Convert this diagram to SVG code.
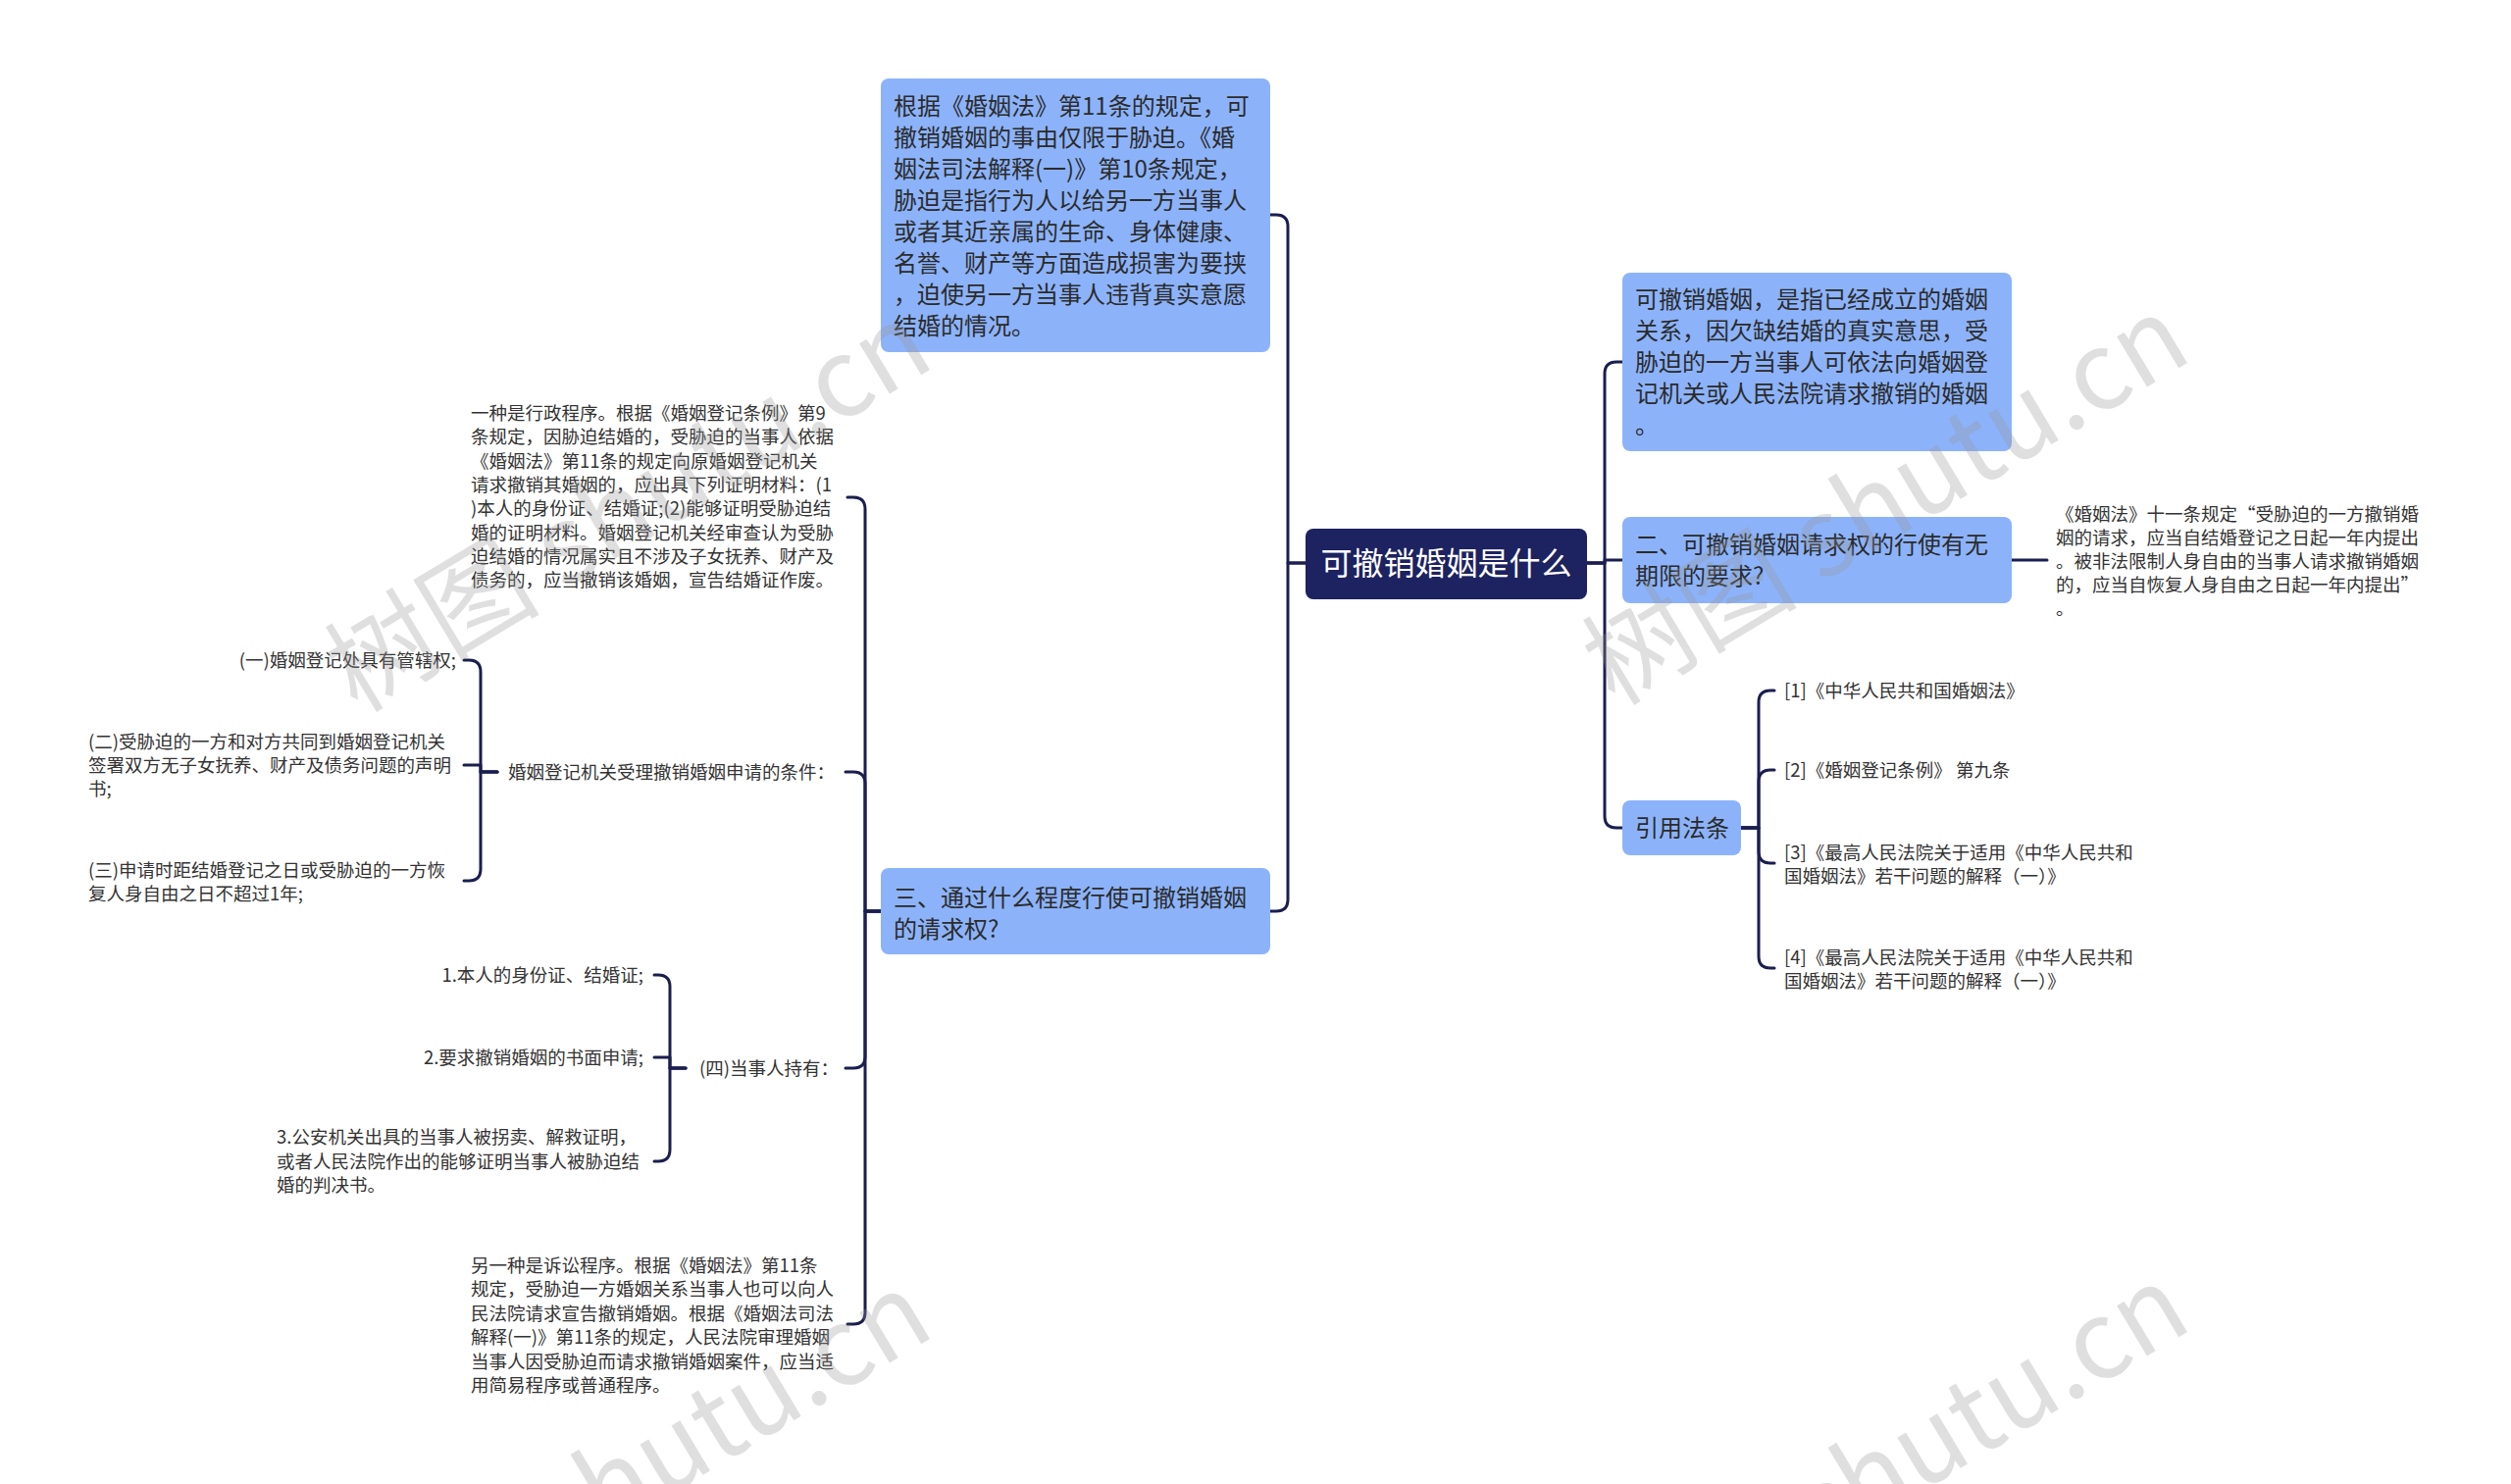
<svg xmlns="http://www.w3.org/2000/svg" width="2560" height="1513" viewBox="0 0 2560 1513">
<style>
text{font-family:"Noto Sans CJK SC","Noto Sans",sans-serif;}
.box{fill:#8cb3fa;}
.root{fill:#1d2260;}
.t24{font-size:24px;fill:#2b2b2b;}
.t32{font-size:32px;fill:#ffffff;}
.t18{font-size:18.5px;fill:#333333;}
.conn path{fill:none;stroke:#1b1e4f;stroke-width:3;stroke-linecap:round;stroke-linejoin:round;}
.wm{font-size:110px;fill:#969696;opacity:0.3;}
</style>
<rect width="2560" height="1513" fill="#ffffff"/>
<g id="connectors" class="conn">
<path d="M1331,574 H1313 V231 Q1313,219 1301,219 H1295"/>
<path d="M1331,574 H1313 V917 Q1313,929 1301,929 H1295"/>
<path d="M1618,574 H1636 V381 Q1636,369 1648,369 H1654"/>
<path d="M1618,574 H1636 V571 H1654"/>
<path d="M1618,574 H1636 V832 Q1636,844 1648,844 H1654"/>
<path d="M2051,571 H2087"/>
<path d="M1775,844 H1793 V716 Q1793,704 1805,704 H1809"/>
<path d="M1775,844 H1793 V797 Q1793,785 1805,785 H1809"/>
<path d="M1775,844 H1793 V868 Q1793,880 1805,880 H1809"/>
<path d="M1775,844 H1793 V975 Q1793,987 1805,987 H1809"/>
<path d="M898,929 H882 V519 Q882,507 870,507 H864"/>
<path d="M898,929 H882 V799 Q882,787 870,787 H862"/>
<path d="M898,929 H882 V1077 Q882,1089 870,1089 H862"/>
<path d="M898,929 H882 V1338 Q882,1350 870,1350 H864"/>
<path d="M507,787 H490 V685 Q490,673 478,673 H473"/>
<path d="M507,787 H490 V780 H473"/>
<path d="M507,787 H490 V886 Q490,898 478,898 H473"/>
<path d="M699,1089 H683 V1006 Q683,994 671,994 H667"/>
<path d="M699,1089 H683 V1078 H667"/>
<path d="M699,1089 H683 V1172 Q683,1184 671,1184 H667"/>
</g>
<g id="root">
<rect class="root" x="1331" y="539" width="287" height="72" rx="8"/>
<text class="t32" x="1474.5" y="586" text-anchor="middle">可撤销婚姻是什么</text>
</g>
<g id="n1">
<rect class="box" x="898" y="80" width="397" height="279" rx="8"/>
<text class="t24" x="911">
<tspan x="911" y="117">根据《婚姻法》第11条的规定，可</tspan>
<tspan x="911" y="149">撤销婚姻的事由仅限于胁迫。《婚</tspan>
<tspan x="911" y="181">姻法司法解释(一)》第10条规定，</tspan>
<tspan x="911" y="213">胁迫是指行为人以给另一方当事人</tspan>
<tspan x="911" y="245">或者其近亲属的生命、身体健康、</tspan>
<tspan x="911" y="277">名誉、财产等方面造成损害为要挟</tspan>
<tspan x="911" y="309">，迫使另一方当事人违背真实意愿</tspan>
<tspan x="911" y="341">结婚的情况。</tspan>
</text>
</g>
<g id="n3">
<rect class="box" x="898" y="885" width="397" height="88" rx="8"/>
<text class="t24">
<tspan x="911" y="924">三、通过什么程度行使可撤销婚姻</tspan>
<tspan x="911" y="956">的请求权?</tspan>
</text>
</g>
<g id="nA">
<rect class="box" x="1654" y="278" width="397" height="182" rx="8"/>
<text class="t24">
<tspan x="1667" y="314">可撤销婚姻，是指已经成立的婚姻</tspan>
<tspan x="1667" y="346">关系，因欠缺结婚的真实意思，受</tspan>
<tspan x="1667" y="378">胁迫的一方当事人可依法向婚姻登</tspan>
<tspan x="1667" y="410">记机关或人民法院请求撤销的婚姻</tspan>
<tspan x="1667" y="442">。</tspan>
</text>
</g>
<g id="nB">
<rect class="box" x="1654" y="527" width="397" height="88" rx="8"/>
<text class="t24">
<tspan x="1667" y="564">二、可撤销婚姻请求权的行使有无</tspan>
<tspan x="1667" y="596">期限的要求?</tspan>
</text>
</g>
<g id="nB1">
<text class="t18">
<tspan x="2096" y="531">《婚姻法》十一条规定“受胁迫的一方撤销婚</tspan>
<tspan x="2096" y="555">姻的请求，应当自结婚登记之日起一年内提出</tspan>
<tspan x="2096" y="579">。被非法限制人身自由的当事人请求撤销婚姻</tspan>
<tspan x="2096" y="603">的，应当自恢复人身自由之日起一年内提出”</tspan>
<tspan x="2096" y="627">。</tspan>
</text>
</g>
<g id="nC">
<rect class="box" x="1654" y="816" width="121" height="56" rx="8"/>
<text class="t24" x="1667" y="853">引用法条</text>
</g>
<g id="c1"><text class="t18" x="1819" y="711">[1]《中华人民共和国婚姻法》</text></g>
<g id="c2"><text class="t18" x="1819" y="792">[2]《婚姻登记条例》 第九条</text></g>
<g id="c3"><text class="t18"><tspan x="1819" y="876">[3]《最高人民法院关于适用《中华人民共和</tspan><tspan x="1819" y="900">国婚姻法》若干问题的解释（一）》</tspan></text></g>
<g id="c4"><text class="t18"><tspan x="1819" y="983">[4]《最高人民法院关于适用《中华人民共和</tspan><tspan x="1819" y="1007">国婚姻法》若干问题的解释（一）》</tspan></text></g>
<g id="b1">
<text class="t18">
<tspan x="480" y="428">一种是行政程序。根据《婚姻登记条例》第9</tspan>
<tspan x="480" y="452">条规定，因胁迫结婚的，受胁迫的当事人依据</tspan>
<tspan x="480" y="477">《婚姻法》第11条的规定向原婚姻登记机关</tspan>
<tspan x="480" y="501">请求撤销其婚姻的，应出具下列证明材料：(1</tspan>
<tspan x="480" y="525">)本人的身份证、结婚证;(2)能够证明受胁迫结</tspan>
<tspan x="480" y="550">婚的证明材料。婚姻登记机关经审查认为受胁</tspan>
<tspan x="480" y="574">迫结婚的情况属实且不涉及子女抚养、财产及</tspan>
<tspan x="480" y="598">债务的，应当撤销该婚姻，宣告结婚证作废。</tspan>
</text>
</g>
<g id="b2"><text class="t18" x="518" y="794">婚姻登记机关受理撤销婚姻申请的条件：</text></g>
<g id="b2a"><text class="t18" x="465" y="680" text-anchor="end">(一)婚姻登记处具有管辖权;</text></g>
<g id="b2b"><text class="t18"><tspan x="90" y="763">(二)受胁迫的一方和对方共同到婚姻登记机关</tspan><tspan x="90" y="787">签署双方无子女抚养、财产及债务问题的声明</tspan><tspan x="90" y="811">书;</tspan></text></g>
<g id="b2c"><text class="t18"><tspan x="90" y="894">(三)申请时距结婚登记之日或受胁迫的一方恢</tspan><tspan x="90" y="918">复人身自由之日不超过1年;</tspan></text></g>
<g id="b3"><text class="t18" x="713" y="1096">(四)当事人持有：</text></g>
<g id="b3a"><text class="t18" x="656" y="1001" text-anchor="end">1.本人的身份证、结婚证;</text></g>
<g id="b3b"><text class="t18" x="656" y="1085" text-anchor="end">2.要求撤销婚姻的书面申请;</text></g>
<g id="b3c"><text class="t18"><tspan x="282" y="1166">3.公安机关出具的当事人被拐卖、解救证明，</tspan><tspan x="282" y="1191">或者人民法院作出的能够证明当事人被胁迫结</tspan><tspan x="282" y="1215">婚的判决书。</tspan></text></g>
<g id="b4">
<text class="t18">
<tspan x="480" y="1297">另一种是诉讼程序。根据《婚姻法》第11条</tspan>
<tspan x="480" y="1321">规定，受胁迫一方婚姻关系当事人也可以向人</tspan>
<tspan x="480" y="1346">民法院请求宣告撤销婚姻。根据《婚姻法司法</tspan>
<tspan x="480" y="1370">解释(一)》第11条的规定，人民法院审理婚姻</tspan>
<tspan x="480" y="1395">当事人因受胁迫而请求撤销婚姻案件，应当适</tspan>
<tspan x="480" y="1419">用简易程序或普通程序。</tspan>
</text>
</g>
<g id="watermarks">
<text class="wm" text-anchor="middle" transform="translate(660,550) rotate(-31)">树图 shutu.cn</text>
<text class="wm" text-anchor="middle" transform="translate(1942,543) rotate(-31)">树图 shutu.cn</text>
<text class="wm" text-anchor="middle" transform="translate(660,1538) rotate(-31)">树图 shutu.cn</text>
<text class="wm" text-anchor="middle" transform="translate(1942,1531) rotate(-31)">树图 shutu.cn</text>
</g>
</svg>
